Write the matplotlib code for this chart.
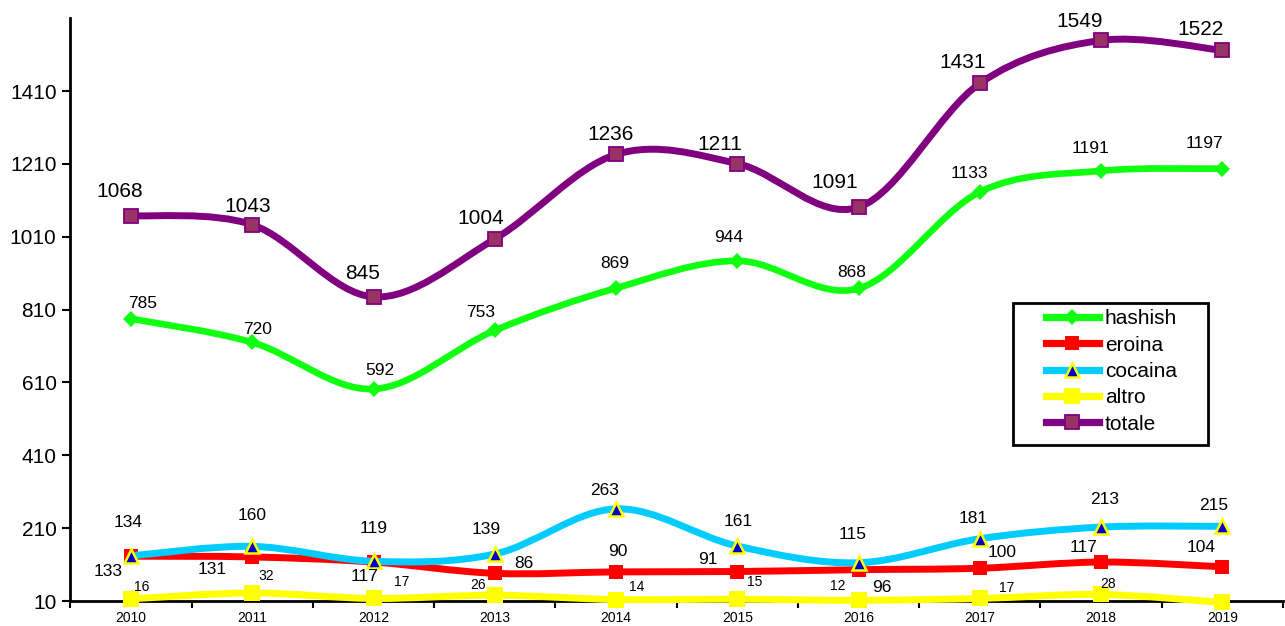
import matplotlib
matplotlib.use("Agg")
import matplotlib.pyplot as plt
from matplotlib.path import Path
from matplotlib.patches import PathPatch, Rectangle
from matplotlib.lines import Line2D
import numpy as np

plt.rcParams['font.family'] = ['Liberation Sans', 'DejaVu Sans']

years = ['2010', '2011', '2012', '2013', '2014', '2015', '2016', '2017', '2018', '2019']
hashish = [785, 720, 592, 753, 869, 944, 868, 1133, 1191, 1197]
eroina = [133, 131, 117, 86, 90, 91, 96, 100, 117, 104]
cocaina = [134, 160, 119, 139, 263, 161, 115, 181, 213, 215]
altro = [16, 32, 17, 26, 14, 15, 12, 17, 28, 6]
totale = [1068, 1043, 845, 1004, 1236, 1211, 1091, 1431, 1549, 1522]
y_ticks = [10, 210, 410, 610, 810, 1010, 1210, 1410]


def smooth_path(xs, ys):
    # excel-like smoothed line: cubic bezier through every point
    p = np.column_stack([xs, ys]).astype(float)
    n = len(p)
    verts = [p[0]]
    codes = [Path.MOVETO]
    for i in range(n - 1):
        p0 = p[i - 1] if i > 0 else p[i]
        p3 = p[i + 2] if i + 2 < n else p[i + 1]
        c1 = p[i] + (p[i + 1] - p0) / 6
        c2 = p[i + 1] - (p3 - p[i]) / 6
        verts += [c1, c2, p[i + 1]]
        codes += [Path.CURVE4] * 3
    return Path(verts, codes)


fig = plt.figure(figsize=(12.85, 6.26), dpi=100)
ax = fig.add_axes([0.0548, 0.0399, 0.9436, 0.931])
x = np.arange(len(years))

series = [
    ('hashish', hashish, dict(color='#11ff11', lw=4.8, marker='D', ms=8.5, mfc='#11ff11', mec='#11ff11', mew=0)),
    ('eroina', eroina, dict(color='#ff0000', lw=5, marker='s', ms=10.5, mfc='#ff0000', mec='#ff0000', mew=0)),
    ('cocaina', cocaina, dict(color='#00ccff', lw=5, marker='^', ms=9.5, mfc='#0000cc', mec='#ffff00', mew=1.8)),
    ('altro', altro, dict(color='#ffff00', lw=5, marker='s', ms=12, mfc='#ffff00', mec='#ffff00', mew=0)),
    ('totale', totale, dict(color='#800080', lw=5, marker='s', ms=9.5, mfc='#993366', mec='#800080', mew=1.3)),
]

handles = []
for k, (name, vals, st) in enumerate(series):
    patch = PathPatch(smooth_path(x, vals), fill=False, edgecolor=st['color'],
                      lw=st['lw'], zorder=5 + k, clip_on=False, capstyle='butt')
    ax.add_patch(patch)
    ax.plot(x, vals, ls='none', marker=st['marker'], ms=st['ms'], mfc=st['mfc'],
            mec=st['mec'], mew=st['mew'], zorder=5.5 + k, clip_on=False)
    handles.append(Line2D([], [], color=st['color'], lw=5.2, marker=st['marker'],
                          ms=st['ms'], mfc=st['mfc'], mec=st['mec'], mew=st['mew'], label=name))

# data label offsets in pixels (dx, dy up)
tot_off = [(-11, 24), (-5, 18), (-11, 23), (-14, 20), (-5, 20),
           (-17, 19), (-24, 25), (-17, 21), (-21, 19), (-22, 21)]
has_off = [(12, 15), (5, 13), (6, 19), (-14, 18), (-1, 25),
           (-9, 23), (-7, 16), (-10, 18), (-11, 22), (-18, 25)]
coc_off = [(-3, 33), (0, 31), (0, 33), (-9, 25), (-11, 18),
           (1, 25), (-6, 28), (-7, 20), (4, 28), (-9, 21)]
ero_off = [(-23, -15), (-40, -13), (-9, -14), (29, 10), (2, 20),
           (-29, 12), (23, -18), (22, 16), (-18, 15), (-21, 19)]
alt_off = [(11, 12), (14, 17), (28, 16), (-17, 10), (21, 13),
           (17, 17), (-21, 14), (27, 10), (7, 10), (-10, 13)]

labels = [(totale, tot_off, 15), (hashish, has_off, 12.5), (cocaina, coc_off, 12.5),
          (eroina, ero_off, 12.5), (altro, alt_off, 10)]
for vals, offs, fs in labels:
    for i, v in enumerate(vals):
        ax.annotate(str(v), (x[i], v), xytext=offs[i], textcoords='offset pixels',
                    ha='center', va='center', fontsize=fs, zorder=20)

ax.set_xlim(-0.5, len(years) - 0.5)
ax.set_ylim(10, 1610)
ax.set_yticks(y_ticks)
ax.set_yticklabels([str(t) for t in y_ticks], fontsize=15)
ax.set_xticks(np.arange(-0.5, len(years)), minor=False)
ax.set_xticklabels([])
ax.set_xticks(x, minor=True)
ax.set_xticklabels(years, minor=True, fontsize=10)
ax.tick_params(axis='x', which='minor', length=0, pad=7.5)
ax.tick_params(axis='x', which='major', length=5, width=1.5, direction='out')
ax.tick_params(axis='y', length=6, width=1.5, direction='out', pad=4)
for s in ['top', 'right']:
    ax.spines[s].set_visible(False)
for s in ['left', 'bottom']:
    ax.spines[s].set_linewidth(2)
    ax.spines[s].set_color('black')

leg = ax.legend(handles=handles, loc='upper left', bbox_to_anchor=(0.8046, 0.5006),
                fontsize=15, frameon=False, handlelength=2.54,
                labelspacing=0.353, borderpad=0, handletextpad=0.29,
                borderaxespad=0)
leg.set_zorder(30)
ax.add_patch(Rectangle((0.7774, 0.2674), 0.1608, 0.2435, transform=ax.transAxes,
                       fill=True, facecolor='white', edgecolor='black', lw=2,
                       zorder=29, clip_on=False))

fig.savefig('out.png', dpi=100)
